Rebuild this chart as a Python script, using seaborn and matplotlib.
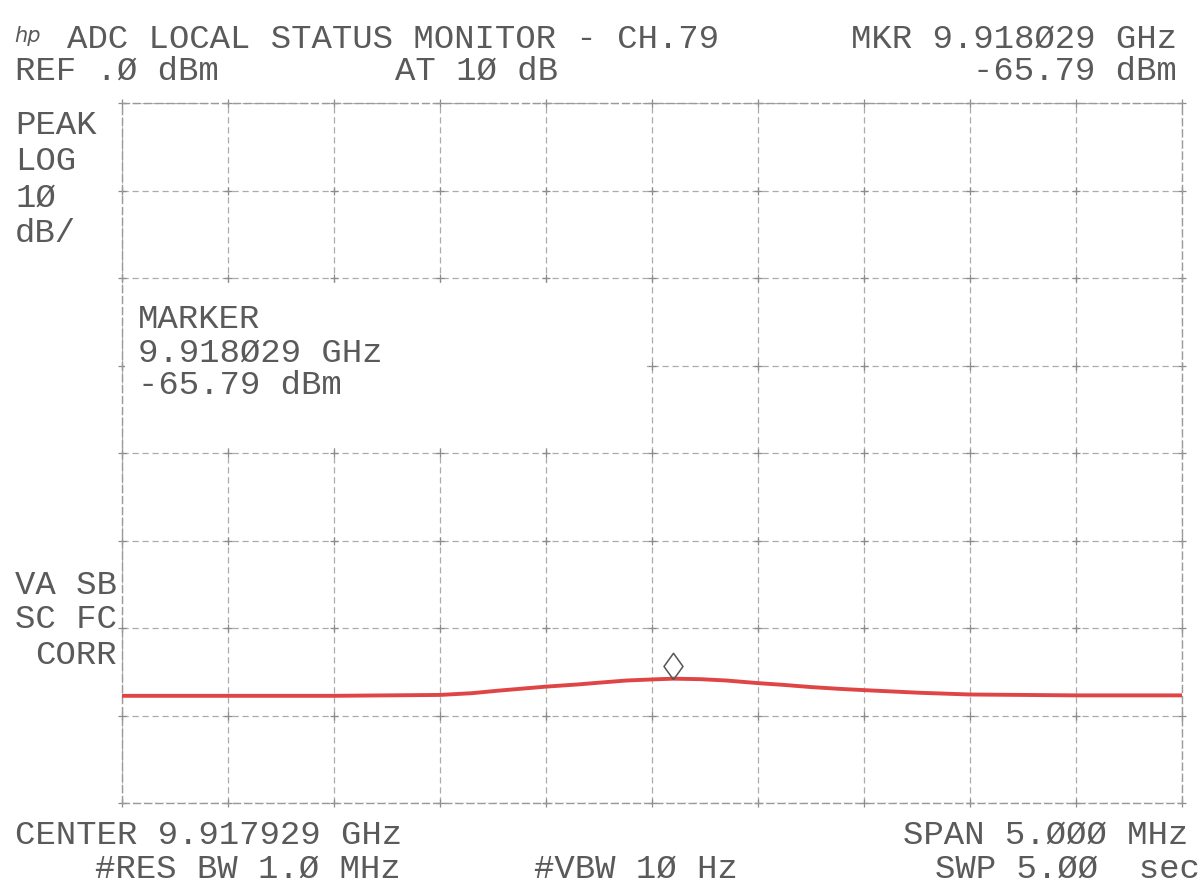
import numpy as np
import pandas as pd
import matplotlib
matplotlib.use("Agg")
import matplotlib.pyplot as plt
import matplotlib.transforms as mtransforms
from matplotlib.patches import Rectangle
import seaborn as sns

# ---- analyzer settings -------------------------------------------------
center_ghz = 9.917929
span_mhz = 5.0
ref_dbm = 0.0
db_per_div = 10
n_vdiv = 8
n_hdiv = 10

# ---- trace: offset from center (MHz) and level (dBm) -------------------
freq_offset_mhz = [-2.5, -2.0, -1.5, -1.0, -0.85, -0.72, -0.5, -0.35, -0.25, -0.12,
                   0.0, 0.1, 0.23, 0.35, 0.5, 0.62, 0.75, 0.88, 1.0, 1.26, 1.5,
                   2.0, 2.5]
level_dbm = [-67.75, -67.75, -67.75, -67.65, -67.45, -67.15, -66.7, -66.45, -66.25,
             -66.0, -65.88, -65.79, -65.85, -66.0, -66.3, -66.5, -66.75, -66.95,
             -67.1, -67.4, -67.6, -67.7, -67.7]

# ---- marker -------------------------------------------------------------
marker_ghz = 9.918029
marker_dbm = -65.79


def slashed(s):
    return s.replace("0", "\u00d8")


sns.set_theme(style="white")
plt.rcParams["font.family"] = ["Liberation Mono", "DejaVu Sans Mono"]

W, H = 1202, 886
fig = plt.figure(figsize=(W / 100, H / 100), dpi=100)
fig.patch.set_facecolor("white")

x0, x1, y0, y1 = 122, 1182, 103, 803
ax = fig.add_axes([x0 / W, 1 - y1 / H, (x1 - x0) / W, (y1 - y0) / H])

half = span_mhz / 2
bottom = ref_dbm - n_vdiv * db_per_div
ax.set_xlim(-half, half)
ax.set_ylim(bottom, ref_dbm)
xt = np.linspace(-half, half, n_hdiv + 1)
yt = np.linspace(bottom, ref_dbm, n_vdiv + 1)
ax.set_xticks(xt)
ax.set_yticks(yt)
ax.tick_params(length=0, labelbottom=False, labelleft=False)
ax.set_axisbelow(True)
ax.grid(True, color="#ababab", lw=0.9, ls=(0, (5, 3)))
for sp in ax.spines.values():
    sp.set_color("#9a9a9a")
    sp.set_linewidth(1.0)
    sp.set_linestyle((0, (5, 3)))

# graticule crossings
gx, gy = np.meshgrid(xt, yt)
ax.plot(gx.ravel(), gy.ravel(), "+", ms=6, mew=0.9, color="#8c8c8c",
        zorder=1, clip_on=False)

# marker readout box blanks the graticule behind it
ax.add_patch(Rectangle((-half + 0.012, -39.4), half - 0.035, 18.8,
                       facecolor="white", edgecolor="none", zorder=2))

trace = pd.DataFrame({"offset": freq_offset_mhz, "level": level_dbm})
sns.lineplot(data=trace, x="offset", y="level", ax=ax, color="#e04545",
             lw=2.8, zorder=4, estimator=None)
ax.set_xlabel("")
ax.set_ylabel("")

# marker diamond sits just above the trace point
diamond = [(0, -1), (0.72, 0), (0, 1), (-0.72, 0), (0, -1)]
mk_off = (marker_ghz - center_ghz) * 1000
lift = mtransforms.offset_copy(ax.transData, fig=fig, x=0, y=13, units="dots")
ax.plot([mk_off], [marker_dbm], marker=diamond, ms=19, mfc="none", mec="#555555",
        mew=1.1, transform=lift, zorder=5, clip_on=False)

TXT = "#5a5a5a"


def put(x, y, s, ha="left", **kw):
    kw.setdefault("fontsize", 24.5)
    fig.text(x / W, 1 - y / H, s, ha=ha, va="center", color=TXT, **kw)


put(14, 36, "hp", fontsize=15, fontstyle="italic", family="DejaVu Sans")
put(67, 39, "ADC LOCAL STATUS MONITOR - CH.79")
put(1177, 39, "MKR " + slashed(f"{marker_ghz:.6f}") + " GHz", ha="right")
put(15, 71, "REF " + slashed(f"{ref_dbm:.1f}").lstrip("\u00d8").lstrip("0") + " dBm")
put(395, 71, slashed(f"AT {db_per_div} dB"))
put(1177, 71, f"{marker_dbm:.2f} dBm", ha="right")

put(15, 125, "PEAK")
put(15, 162, "LOG")
put(15, 198, slashed(f"{db_per_div}"))
put(15, 233, "dB/")

put(138, 320, "MARKER")
put(138, 353, slashed(f"{marker_ghz:.6f}") + " GHz")
put(138, 386, f"{marker_dbm:.2f} dBm")

put(117, 585, "VA SB", ha="right")
put(117, 620, "SC FC", ha="right")
put(117, 655, "CORR", ha="right")

put(15, 835, "CENTER " + slashed(f"{center_ghz:.6f}") + " GHz")
put(95, 869, slashed("#RES BW 1.0 MHz"))
put(534, 869, slashed("#VBW 10 Hz"))
put(1188, 835, "SPAN " + slashed(f"{span_mhz:.3f}") + " MHz", ha="right")
put(1200, 869, slashed("SWP 5.00  sec"), ha="right")

fig.savefig("out.png", dpi=100, facecolor="white")
